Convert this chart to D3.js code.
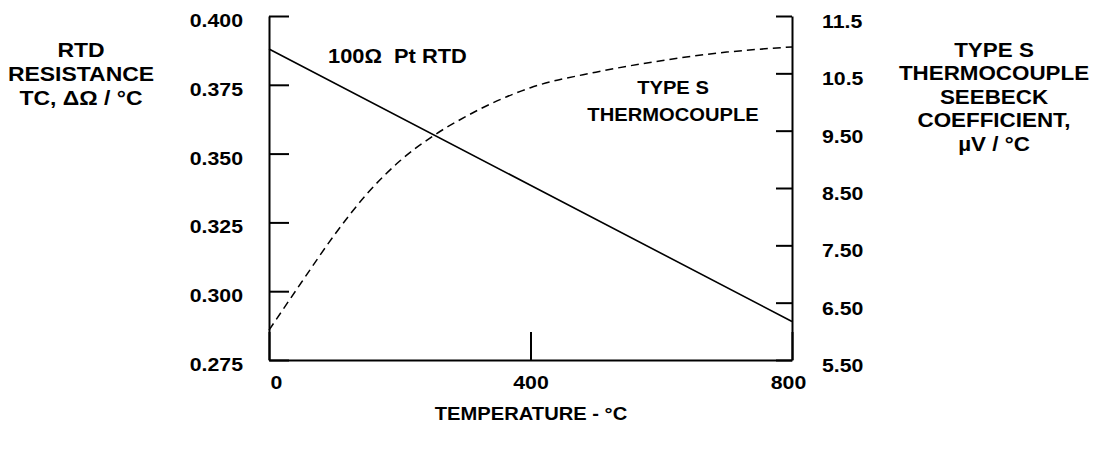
<html>
  <head>
	<meta charset="utf-8">
	<title>RTD vs Type S thermocouple</title>
	<script src="https://d3js.org/d3.v7.min.js"></script>
	<style>
	  body { margin: 0; background: #fff; }
	  text { font-family: "Liberation Sans", Arial, sans-serif; font-weight: bold; fill: #000; white-space: pre; }
	</style>
  </head>
  <body>
  <svg width="1099" height="453"></svg>

	<script type="text/javascript">

    // RTD resistance temperature coefficient (ohm / degC)
    var rtdTemp = [0, 400, 800];
    var rtdCoef = [0.388, 0.3385, 0.289];

    // Type S thermocouple Seebeck coefficient (uV / degC)
    var tcTemp = [0, 50, 100, 150, 200, 250, 300, 400, 500, 600, 700, 800];
    var tcSeebeck = [6.02, 6.86, 7.68, 8.40, 8.97, 9.40, 9.74, 10.25, 10.52, 10.72, 10.87, 10.96];

    var xTicks = [0, 400, 800];
    var leftTicks = [0.275, 0.300, 0.325, 0.350, 0.375, 0.400];
    var rightTicks = [5.5, 6.5, 7.5, 8.5, 9.5, 10.5, 11.5];
    var rightTickLabels = ["5.50", "6.50", "7.50", "8.50", "9.50", "10.5", "11.5"];

    var margin = {top: 16, right: 307, bottom: 93, left: 269};
    var width = 1099 - margin.left - margin.right;
    var height = 453 - margin.top - margin.bottom;
    var largura = 1.12; // o texto original e mais largo que Arial

    var svg = d3.select("svg");
    var g = svg.append("g")
      .attr("transform", "translate(" + margin.left + "," + margin.top + ")");

    var escalaX = d3.scaleLinear().domain([0, 800]).range([0, width]);
    var escalaY = d3.scaleLinear().domain([0.275, 0.400]).range([height, 0]);
    var escalaY2 = d3.scaleLinear().domain([5.5, 11.5]).range([height, 0]);

    function alarga(sel, tx, ty) {
      sel.attr("transform", "translate(" + tx + "," + (ty || 0) + ") scale(" + largura + ",1)").attr("x", 0);
    }

    // eixo esquerdo
    var eixoY = d3.axisLeft(escalaY).tickValues(leftTicks)
      .tickFormat(d3.format(".3f")).tickSize(-20).tickSizeOuter(0);
    var gy = g.append("g").call(eixoY);
    gy.selectAll("text").attr("dy", "0.55em").style("font-size", "19px").call(alarga, -26);

    // eixo direito
    var eixoY2 = d3.axisRight(escalaY2).tickValues(rightTicks)
      .tickFormat((d, i) => rightTickLabels[i]).tickSize(-16).tickSizeOuter(0);
    var gy2 = g.append("g").attr("transform", "translate(" + width + ",0)").call(eixoY2);
    gy2.selectAll("text").attr("dy", "0.6em").style("font-size", "19px").call(alarga, 30);

    // eixo X
    var eixoX = d3.axisBottom(escalaX).tickValues(xTicks)
      .tickSize(-28).tickSizeOuter(0).tickPadding(16);
    var gx = g.append("g").attr("transform", "translate(0," + height + ")").call(eixoX);
    gx.selectAll("text").style("font-size", "19px")
      .each(function(d) {
        d3.select(this).call(alarga, d == 0 ? 7 : (d == 800 ? -4 : 0), 0);
      });

    g.selectAll(".domain, .tick line").attr("stroke", "#000").attr("stroke-width", 2);
    g.selectAll(".tick text").attr("fill", "#000");

    // linhas
    var linhaRtd = d3.line()
      .x((d, i) => escalaX(rtdTemp[i]))
      .y(d => escalaY(d));
    g.append("path").datum(rtdCoef)
      .attr("d", linhaRtd)
      .attr("fill", "none").attr("stroke", "#000").attr("stroke-width", 1.6);

    var linhaTc = d3.line()
      .x((d, i) => escalaX(tcTemp[i]))
      .y(d => escalaY2(d))
      .curve(d3.curveMonotoneX);
    g.append("path").datum(tcSeebeck)
      .attr("d", linhaTc)
      .attr("fill", "none").attr("stroke", "#000").attr("stroke-width", 1.5)
      .attr("stroke-dasharray", "8,5");

    // rotulos das curvas
    g.append("text").attr("y", 47).style("font-size", "19.5px")
      .text("100\u03A9  Pt RTD").call(alarga, 59);
    var rotTc = g.append("text").attr("text-anchor", "middle").style("font-size", "18px").call(alarga, 404);
    rotTc.append("tspan").attr("x", 0).attr("y", 78).text("TYPE S");
    rotTc.append("tspan").attr("x", 0).attr("y", 105).text("THERMOCOUPLE");

    // titulos dos eixos
    var tituloEsq = svg.append("text").attr("text-anchor", "middle").style("font-size", "20.5px").call(alarga, 81);
    ["RTD", "RESISTANCE", "TC, \u0394\u03A9 / \u00B0C"].forEach(function(s, i) {
      tituloEsq.append("tspan").attr("x", 0).attr("y", 57 + i * 24).text(s);
    });

    var tituloDir = svg.append("text").attr("text-anchor", "middle").style("font-size", "20px").call(alarga, 994);
    ["TYPE S", "THERMOCOUPLE", "SEEBECK", "COEFFICIENT,", "\u00B5V / \u00B0C"].forEach(function(s, i) {
      tituloDir.append("tspan").attr("x", 0).attr("y", 57 + i * 23.5).text(s);
    });

    svg.append("text").attr("y", 420).attr("text-anchor", "middle")
      .style("font-size", "18px").text("TEMPERATURE - \u00B0C").call(alarga, 531);

	</script>
  </body>

</html>
